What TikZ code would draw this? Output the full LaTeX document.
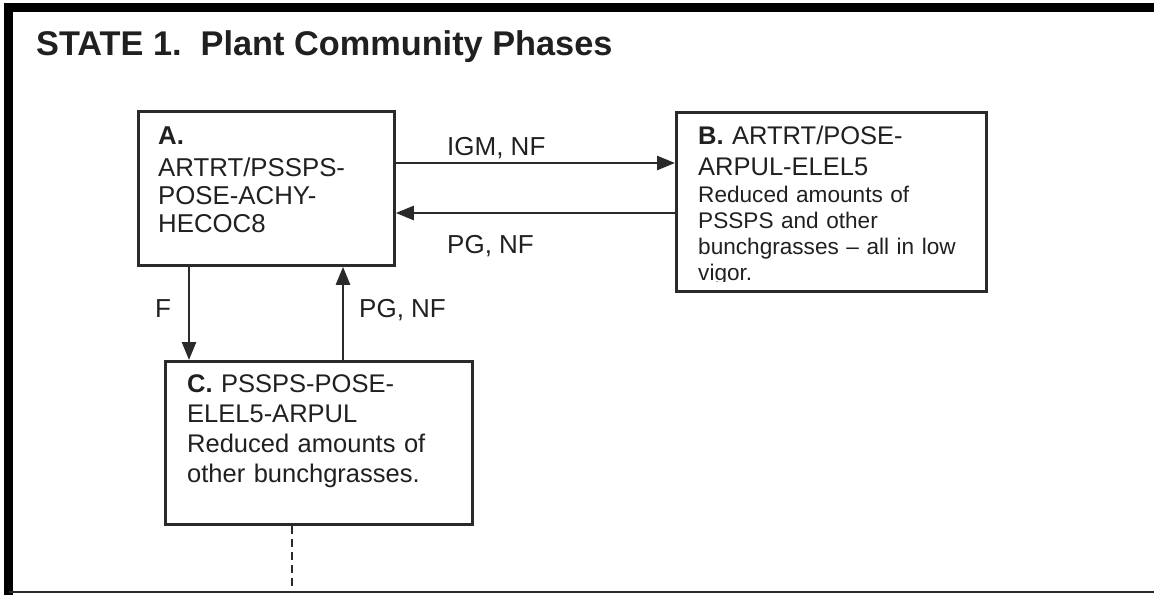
\documentclass[tikz,border=0pt]{standalone}
\usepackage{fontspec}
\setmainfont{Liberation Sans}
\usetikzlibrary{arrows.meta,calc}
\definecolor{ink}{HTML}{202020}
\definecolor{edge}{HTML}{2A2A2A}
\begin{document}
\begin{tikzpicture}[x=1pt,y=1pt,
  phase/.style={draw=edge,line width=2.8pt,rectangle,inner sep=0pt,anchor=north west},
  txt/.style={text=ink,anchor=base west,inner sep=0pt,align=left,text width=300pt},
  lbl/.style={text=ink,anchor=base west,inner sep=0pt,font=\fontsize{26}{30}\selectfont},
  arr/.style={draw=edge,line width=2.6pt,-{Triangle[length=18pt,width=14pt]}},
  link/.style={draw=edge,line width=2.6pt,dash pattern=on 8pt off 5pt}]
\useasboundingbox (0,0) rectangle (1154,-595);
% outer frame
\draw[line width=9pt,black] (1154,-7.5) -- (8.5,-7.5) -- (8.5,-595);
\draw[line width=2.6pt,edge] (8.5,-592) -- (1154,-592);
% title
\node[anchor=base west,inner sep=0pt,text=ink,font=\bfseries\fontsize{34.3}{38}\selectfont] (title) at (36,-55) {STATE 1.\ \ Plant Community Phases};
% boxes
\node[phase,minimum width=256pt,minimum height=154pt] (A) at (137,-110) {};
\node[phase,minimum width=310pt,minimum height=179pt] (B) at (675,-111) {};
\node[phase,minimum width=307pt,minimum height=163pt] (C) at (164,-360) {};
% box texts
\node[txt,font=\fontsize{25.8}{28}\selectfont] (Atext) at (158,-144) {\textbf{A.}\\[4pt]ARTRT/PSSPS-\\POSE-ACHY-\\HECOC8};
\node[txt,font=\fontsize{25.5}{31}\selectfont] (Bhead) at (698,-144) {\textbf{B.} ARTRT/POSE-\\ARPUL-ELEL5};
\begin{scope}
\clip (676,-180) rectangle (984,-281);
\node[txt,font=\fontsize{22.6}{26}\selectfont] (Bdesc) at (698,-202) {Reduced amounts of\\PSSPS and other\\bunchgrasses – all in low\\vigor.};
\end{scope}
\node[txt,font=\fontsize{25.5}{30.3}\selectfont] (Ctext) at (187,-392) {\textbf{C.} PSSPS-POSE-\\ELEL5-ARPUL\\Reduced amounts of\\other bunchgrasses.};
% connector guides
\coordinate (ig) at (0,-163);
\coordinate (pg) at (0,-213);
\coordinate (fx) at (189,0);
\coordinate (ux) at (343,0);
\coordinate (dx) at (292,0);
\coordinate (dend) at (292,-592);
% connectors
\draw[arr] (A.east |- ig) -- (B.west |- ig);
\draw[arr] (B.west |- pg) -- (A.east |- pg);
\draw[arr] (A.south -| fx) -- (C.north -| fx);
\draw[arr] (C.north -| ux) -- (A.south -| ux);
\draw[link] (C.south -| dx) -- (dend);
% labels
\node[lbl] (l1) at (447,-155) {IGM, NF};
\node[lbl] (l2) at (447,-253) {PG, NF};
\node[lbl] (l3) at (155,-317) {F};
\node[lbl] (l4) at (359,-317) {PG, NF};
\end{tikzpicture}
\end{document}
